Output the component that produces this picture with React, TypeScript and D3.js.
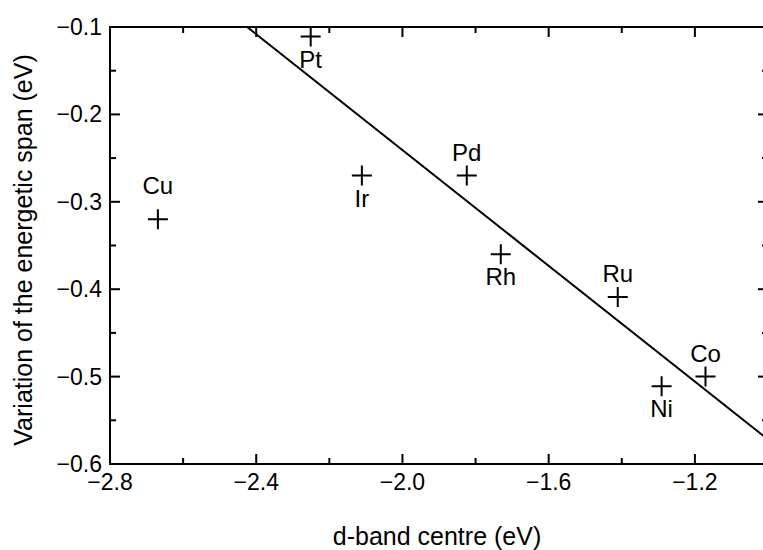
import React, { useEffect, useRef } from 'react';
import * as d3 from 'd3';

const WIDTH = 763;
const HEIGHT = 550;

// metals: d-band centre vs variation of the energetic span
const metals = ['Pt', 'Cu', 'Ir', 'Pd', 'Rh', 'Ru', 'Ni', 'Co'];
const dBand = [-2.251, -2.669, -2.111, -1.824, -1.731, -1.411, -1.291, -1.171];
const span = [-0.111, -0.32, -0.27, -0.27, -0.36, -0.409, -0.511, -0.5];
const labelAbove = [false, true, false, true, false, true, false, true];

// fitted line end points
const fitX = [-2.425, -1.0];
const fitY = [-0.1, -0.572];

const xMajor = [-2.8, -2.4, -2.0, -1.6, -1.2];
const xMinor = [-2.6, -2.2, -1.8, -1.4];
const yMajor = [-0.1, -0.2, -0.3, -0.4, -0.5, -0.6];
const yMinor = [-0.15, -0.25, -0.35, -0.45, -0.55];

const FONT = '"Liberation Sans", Arial, Helvetica, sans-serif';

export default function App() {
  const ref = useRef<SVGSVGElement>(null);

  useEffect(() => {
    const svg = d3.select(ref.current);
    svg.selectAll('*').remove();

    const left = 110, right = 768, top = 27, bottom = 464;
    const x = d3.scaleLinear().domain([-2.8, -1.0]).range([left, right]);
    const y = d3.scaleLinear().domain([-0.1, -0.6]).range([top, bottom]);

    svg.append('defs').append('clipPath').attr('id', 'plotclip')
      .append('rect').attr('x', left).attr('y', top)
      .attr('width', right - left).attr('height', bottom - top);

    const fmt = (v: number) => (v < 0 ? '\u2212' : '') + Math.abs(v).toFixed(1);

    // frame
    svg.append('rect')
      .attr('x', left).attr('y', top)
      .attr('width', right - left).attr('height', bottom - top)
      .attr('fill', 'none').attr('stroke', 'black').attr('stroke-width', 2);

    const ticks = svg.append('g').attr('stroke', 'black').attr('stroke-width', 2);
    const tick = (x1: number, y1: number, x2: number, y2: number) =>
      ticks.append('line').attr('x1', x1).attr('y1', y1).attr('x2', x2).attr('y2', y2);

    xMajor.forEach(v => { tick(x(v), bottom, x(v), bottom - 10); tick(x(v), top, x(v), top + 10); });
    xMinor.forEach(v => { tick(x(v), bottom, x(v), bottom - 6); tick(x(v), top, x(v), top + 6); });
    yMajor.forEach(v => { tick(left, y(v), left + 10, y(v)); tick(right, y(v), right - 10, y(v)); });
    yMinor.forEach(v => { tick(left, y(v), left + 6, y(v)); tick(right, y(v), right - 6, y(v)); });

    // tick labels
    svg.append('g').selectAll('text').data(xMajor).enter().append('text')
      .attr('x', d => x(d)).attr('y', bottom + 26)
      .attr('text-anchor', 'middle').attr('font-family', FONT).attr('font-size', 23)
      .text(d => fmt(d));

    svg.append('g').selectAll('text').data(yMajor).enter().append('text')
      .attr('x', left - 8).attr('y', d => y(d) + 8)
      .attr('text-anchor', 'end').attr('font-family', FONT).attr('font-size', 23)
      .text(d => fmt(d));

    // axis titles
    svg.append('text')
      .attr('x', 437).attr('y', 545)
      .attr('text-anchor', 'middle').attr('font-family', FONT).attr('font-size', 25)
      .text('d-band centre (eV)');

    svg.append('text')
      .attr('transform', `translate(32,250) rotate(-90)`)
      .attr('text-anchor', 'middle').attr('font-family', FONT).attr('font-size', 25)
      .text('Variation of the energetic span (eV)');

    // fitted line
    svg.append('path')
      .datum(fitX.map((v, i) => [v, fitY[i]] as [number, number]))
      .attr('clip-path', 'url(#plotclip)')
      .attr('d', d3.line<[number, number]>().x(d => x(d[0])).y(d => y(d[1])))
      .attr('fill', 'none').attr('stroke', 'black').attr('stroke-width', 2);

    // markers
    const pts = svg.append('g');
    metals.forEach((m, i) => {
      const cx = x(dBand[i]), cy = y(span[i]);
      pts.append('path')
        .attr('d', `M${cx - 10},${cy}H${cx + 10}M${cx},${cy - 10}V${cy + 10}`)
        .attr('stroke', 'black').attr('stroke-width', 2);
      pts.append('text')
        .attr('x', cx).attr('y', labelAbove[i] ? cy - (m === 'Cu' ? 25 : 15) : cy + 31)
        .attr('text-anchor', 'middle').attr('font-family', FONT).attr('font-size', 24)
        .text(m);
    });
  }, []);

  return (
    <svg
      ref={ref}
      width={WIDTH}
      height={HEIGHT}
      style={{ position: 'absolute', left: 0, top: 0, background: 'white' }}
    />
  );
}
